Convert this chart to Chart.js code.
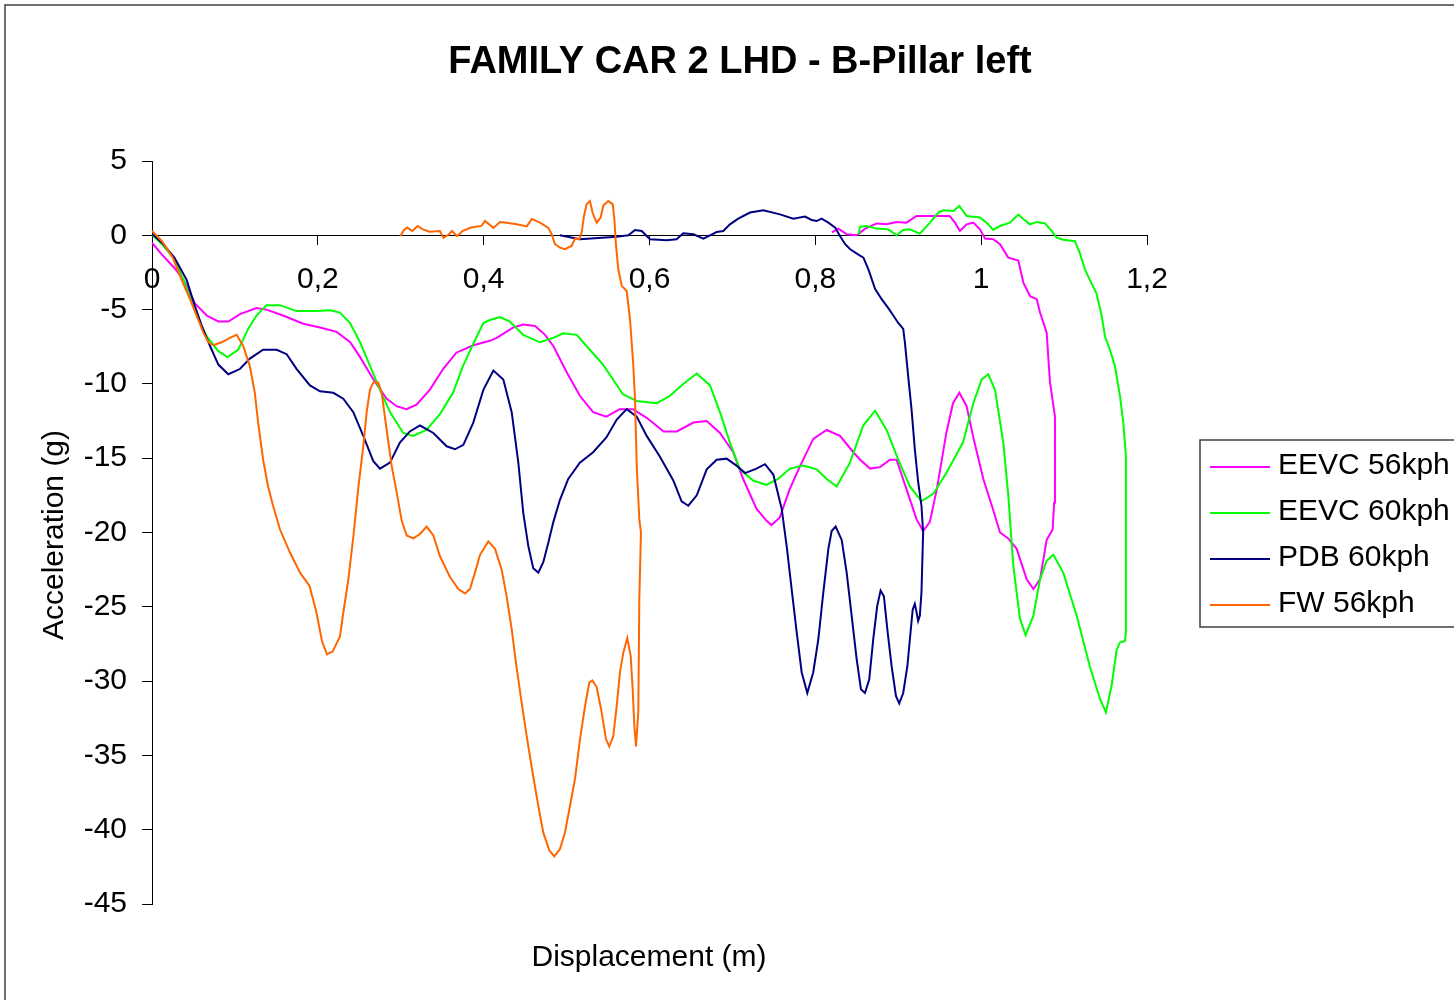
<!DOCTYPE html>
<html>
<head>
<meta charset="utf-8">
<script src="https://cdn.jsdelivr.net/npm/chart.js@4/dist/chart.umd.min.js"></script>
<style>
html,body{margin:0;padding:0;background:#fff;}
canvas{display:block;}
</style>
</head>
<body>
<canvas id="c" width="1454" height="1000"></canvas>
<script>
const chartTitle = 'FAMILY CAR 2 LHD - B-Pillar left';
const xAxisTitle = 'Displacement (m)';
const yAxisTitle = 'Acceleration (g)';
const seriesNames = ['EEVC 56kph', 'EEVC 60kph', 'PDB 60kph', 'FW 56kph'];
const xTickLabels = ['0', '0,2', '0,4', '0,6', '0,8', '1', '1,2'];
const yTickLabels = ['-45', '-40', '-35', '-30', '-25', '-20', '-15', '-10', '-5', '0', '5'];

// EEVC 56kph (displacement m, acceleration g), in path order
const eevc56Disp = [0,0.012,0.027,0.038,0.052,0.066,0.080,0.092,0.106,0.126,0.138,0.158,0.1825,0.2026,0.2227,0.239,0.251,0.267,0.283,0.295,0.307,0.319,0.335,0.351,0.367,0.3875,0.4076,0.4157,0.4358,0.4478,0.462,0.474,0.484,0.500,0.516,0.532,0.548,0.564,0.580,0.597,0.617,0.633,0.653,0.669,0.685,0.701,0.713,0.729,0.741,0.747,0.757,0.769,0.781,0.7975,0.8137,0.8297,0.8458,0.854,0.866,0.878,0.890,0.898,0.910,0.922,0.930,0.938,0.9465,0.958,0.966,0.9737,0.9825,0.9905,1.0026,1.0146,1.0227,1.0327,1.0428,1.0549,1.063,1.071,1.079,1.0862,1.088,1.089,1.083,1.079,1.071,1.067,1.059,1.051,1.0448,1.0327,1.0227,1.0146,1.0046,0.9985,0.9905,0.9825,0.9744,0.9684,0.962,0.922,0.910,0.898,0.886,0.874,0.860,0.850,0.838,0.8277,0.820];
const eevc56Acc  = [-0.5,-1.3,-2.2,-3.0,-4.6,-5.4,-5.8,-5.8,-5.3,-4.9,-5.0,-5.4,-5.95,-6.2,-6.5,-7.2,-8.2,-9.7,-11.0,-11.5,-11.7,-11.4,-10.4,-9.0,-7.9,-7.4,-7.1,-6.9,-6.2,-6.0,-6.1,-6.7,-7.45,-9.2,-10.8,-11.9,-12.2,-11.7,-11.7,-12.3,-13.2,-13.2,-12.6,-12.5,-13.3,-14.6,-16.4,-18.4,-19.2,-19.5,-19.0,-17.1,-15.6,-13.7,-13.1,-13.5,-14.6,-15.1,-15.7,-15.6,-15.1,-15.1,-17.1,-19.1,-19.9,-19.3,-17.1,-13.3,-11.3,-10.6,-11.5,-13.6,-16.4,-18.5,-20.0,-20.4,-21.1,-23.15,-23.8,-23.15,-20.5,-19.8,-18.0,-12.2,-9.9,-6.55,-5.2,-4.3,-4.1,-3.2,-1.7,-1.5,-0.6,-0.27,-0.22,0.4,0.85,0.74,0.29,0.85,1.3,1.3,0.85,0.9,0.74,0.8,0.45,0.0,0.07,0.45,0.2];

// EEVC 60kph
const eevc60Disp = [0,0.012,0.027,0.038,0.054,0.066,0.080,0.0908,0.104,0.116,0.126,0.138,0.154,0.1745,0.1986,0.2147,0.2267,0.2388,0.251,0.263,0.275,0.287,0.303,0.315,0.331,0.347,0.363,0.375,0.3875,0.3996,0.4076,0.4197,0.4317,0.4478,0.4679,0.484,0.496,0.5122,0.528,0.544,0.556,0.568,0.5846,0.6087,0.6247,0.6407,0.657,0.673,0.685,0.697,0.709,0.725,0.741,0.755,0.7694,0.7855,0.8016,0.8137,0.8257,0.8418,0.8578,0.872,0.886,0.900,0.914,0.928,0.9423,0.958,0.978,0.9905,1.0006,1.0086,1.0167,1.0267,1.0327,1.0388,1.0468,1.0536,1.063,1.071,1.079,1.087,1.099,1.1152,1.131,1.1433,1.1505,1.1573,1.1634,1.1674,1.1734,1.1746,1.1746,1.1714,1.1674,1.1613,1.1553,1.1493,1.1453,1.139,1.131,1.1252,1.119,1.1131,1.099,1.091,1.085,1.077,1.067,1.0588,1.0508,1.0448,1.0347,1.0227,1.0146,1.0066,0.9985,0.9825,0.9737,0.9664,0.9544,0.9483,0.9383,0.926,0.914,0.906,0.898,0.888,0.874,0.862,0.854,0.852];
const eevc60Acc  = [0.05,-0.6,-1.6,-3.0,-5.4,-6.8,-7.8,-8.2,-7.7,-6.3,-5.4,-4.7,-4.7,-5.1,-5.1,-5.05,-5.2,-5.9,-7.2,-8.8,-10.4,-11.9,-13.3,-13.5,-13.1,-12.05,-10.6,-8.8,-7.3,-5.9,-5.7,-5.5,-5.8,-6.7,-7.2,-6.9,-6.6,-6.7,-7.7,-8.7,-9.7,-10.7,-11.15,-11.3,-10.8,-10.0,-9.3,-10.1,-11.9,-13.95,-15.75,-16.5,-16.8,-16.4,-15.7,-15.5,-15.75,-16.4,-16.9,-15.3,-12.8,-11.8,-13.1,-15.1,-16.9,-17.9,-17.4,-16.0,-13.95,-11.3,-9.7,-9.35,-10.4,-13.95,-17.5,-22.25,-25.8,-26.9,-25.6,-23.15,-21.9,-21.5,-22.7,-25.6,-29.0,-31.2,-32.1,-30.3,-27.9,-27.4,-27.3,-26.7,-14.85,-12.6,-10.8,-8.8,-7.7,-6.8,-5.4,-3.9,-3.0,-2.3,-1.2,-0.4,-0.3,-0.16,0.3,0.8,0.9,0.74,1.1,1.4,0.85,0.63,0.36,0.85,1.2,1.3,1.97,1.64,1.68,1.53,0.85,0.11,0.4,0.36,0.0,0.4,0.45,0.63,0.58,0.07];

// PDB 60kph
const pdb60Disp = [0,0.012,0.027,0.0418,0.0519,0.060,0.070,0.080,0.092,0.106,0.118,0.134,0.1504,0.1624,0.1745,0.1905,0.2026,0.2187,0.2307,0.2428,0.2548,0.2669,0.275,0.287,0.299,0.311,0.3232,0.3393,0.3554,0.3654,0.3755,0.3875,0.3996,0.4117,0.4237,0.4338,0.4418,0.4478,0.4538,0.4598,0.4659,0.4719,0.4779,0.484,0.492,0.502,0.516,0.532,0.548,0.5605,0.5725,0.5846,0.5966,0.6126,0.6287,0.6387,0.6468,0.657,0.669,0.681,0.693,0.705,0.7152,0.729,0.7393,0.7493,0.7594,0.7654,0.7714,0.7775,0.7835,0.7903,0.7975,0.8036,0.8096,0.8157,0.8197,0.8245,0.8318,0.8378,0.8438,0.8498,0.855,0.8598,0.865,0.8698,0.8746,0.8787,0.8827,0.8872,0.892,0.8972,0.9012,0.906,0.911,0.914,0.9174,0.920,0.9222,0.924,0.926,0.928,0.930,0.928,0.924,0.920,0.916,0.912,0.908,0.906,0.900,0.894,0.888,0.880,0.872,0.864,0.858,0.852,0.842,0.836,0.8297,0.824,0.8157,0.8076,0.8016,0.7956,0.7875,0.7734,0.7574,0.7373,0.7212,0.707,0.697,0.689,0.681,0.673,0.665,0.653,0.6407,0.6327,0.6206,0.6006,0.5906,0.5825,0.5745,0.5605,0.5162,0.492];
const pdb60Acc  = [0.1,-0.5,-1.5,-3.0,-4.8,-6.1,-7.45,-8.7,-9.35,-9.0,-8.3,-7.7,-7.7,-8.0,-9.0,-10.1,-10.5,-10.6,-11.0,-11.9,-13.5,-15.2,-15.7,-15.3,-13.95,-13.2,-12.8,-13.3,-14.2,-14.4,-14.1,-12.6,-10.4,-9.1,-9.7,-11.9,-15.3,-18.7,-20.9,-22.4,-22.7,-22.0,-20.7,-19.3,-17.8,-16.4,-15.3,-14.6,-13.6,-12.4,-11.7,-12.2,-13.5,-14.9,-16.5,-17.9,-18.2,-17.5,-15.75,-15.1,-15.03,-15.5,-16.0,-15.7,-15.4,-16.1,-18.4,-20.9,-23.8,-26.7,-29.4,-30.8,-29.4,-27.2,-24.05,-21.1,-19.9,-19.6,-20.5,-22.7,-25.6,-28.5,-30.55,-30.8,-29.9,-27.2,-24.95,-23.9,-24.3,-26.7,-29.0,-31.0,-31.5,-30.8,-29.0,-27.2,-25.2,-24.8,-25.4,-25.95,-25.6,-24.05,-20.0,-18.2,-16.6,-14.4,-11.7,-9.5,-7.2,-6.3,-5.9,-5.4,-4.9,-4.3,-3.6,-2.3,-1.5,-1.3,-0.94,-0.6,-0.05,0.52,0.85,1.12,0.96,1.03,1.26,1.12,1.41,1.68,1.53,1.12,0.74,0.29,0.22,0.0,-0.22,0.07,0.13,-0.27,-0.34,-0.27,0.29,0.36,0.0,-0.09,-0.27,0.0];

// FW 56kph
const fw56Disp = [0,0.012,0.025,0.0358,0.0458,0.0539,0.0619,0.068,0.074,0.084,0.094,0.102,0.110,0.118,0.124,0.128,0.134,0.140,0.146,0.1544,0.1664,0.1785,0.190,0.198,0.205,0.211,0.218,0.2267,0.2307,0.2368,0.2428,0.2488,0.2548,0.2589,0.2629,0.2669,0.2729,0.277,0.283,0.289,0.2951,0.3011,0.3072,0.3152,0.3232,0.3313,0.3393,0.3473,0.3594,0.3694,0.3775,0.3835,0.3895,0.3956,0.4056,0.4137,0.4217,0.4277,0.4338,0.439,0.4458,0.4519,0.4591,0.4659,0.4719,0.4792,0.4852,0.492,0.498,0.5041,0.5101,0.5162,0.5222,0.5274,0.531,0.5363,0.5423,0.5475,0.5515,0.5563,0.5604,0.5644,0.5684,0.5732,0.5773,0.5797,0.5817,0.5837,0.5865,0.5877,0.5897,0.5877,0.5846,0.5825,0.5805,0.5785,0.5765,0.5725,0.5665,0.5624,0.5596,0.5576,0.5556,0.5503,0.5443,0.5411,0.5363,0.5315,0.5282,0.5242,0.521,0.5182,0.5153,0.5101,0.5061,0.498,0.492,0.486,0.482,0.478,0.468,0.458,0.452,0.4398,0.4277,0.4197,0.4117,0.4016,0.3973,0.3847,0.3743,0.368,0.3618,0.3577,0.3514,0.3473,0.3349,0.3266,0.3203,0.314,0.3078,0.3037,0.2995];
const fw56Acc  = [0.3,-0.4,-1.5,-3.0,-4.3,-5.4,-6.55,-7.2,-7.4,-7.2,-6.9,-6.7,-7.45,-8.8,-10.6,-12.6,-15.1,-16.9,-18.2,-19.8,-21.35,-22.7,-23.6,-25.3,-27.3,-28.2,-28.0,-27.0,-25.4,-23.15,-20.3,-17.0,-14.2,-11.9,-10.4,-9.9,-9.9,-10.6,-13.1,-15.5,-17.3,-19.2,-20.2,-20.4,-20.1,-19.6,-20.2,-21.6,-23.0,-23.8,-24.1,-23.8,-22.7,-21.5,-20.6,-21.1,-22.5,-24.3,-26.5,-28.8,-31.45,-33.7,-36.2,-38.4,-40.2,-41.4,-41.8,-41.3,-40.2,-38.4,-36.6,-33.9,-31.7,-30.1,-29.95,-30.4,-32.1,-33.9,-34.4,-33.7,-31.7,-29.4,-28.1,-27.1,-28.3,-30.55,-33.0,-34.4,-32.1,-24.5,-20.0,-19.1,-15.5,-11.0,-8.8,-7.2,-5.65,-3.75,-3.4,-2.3,-0.7,1.1,2.1,2.3,2.0,1.2,0.85,1.5,2.3,2.1,1.3,0.2,-0.27,-0.22,-0.72,-0.94,-0.83,-0.6,0.07,0.5,0.85,1.1,0.6,0.74,0.85,0.9,0.5,0.96,0.63,0.52,0.29,-0.06,0.29,0.05,-0.17,0.29,0.24,0.4,0.63,0.29,0.52,0.34,-0.06];

const seriesColors = ['#FF00FF', '#00FF00', '#000080', '#FF6600'];

function pts(xs, ys) { return xs.map((x, i) => ({ x: x, y: ys[i] })); }

const FONT = '"Liberation Sans", Arial, sans-serif';

const decorPlugin = {
  id: 'decor',
  afterDraw(chart) {
    const ctx = chart.ctx;
    ctx.save();
    // outer border
    ctx.strokeStyle = '#404040';
    ctx.lineWidth = 1.5;
    ctx.strokeRect(5, 5, 1500, 1100);
    ctx.fillStyle = '#000';
    // title
    ctx.font = 'bold 38px ' + FONT;
    ctx.textAlign = 'center';
    ctx.textBaseline = 'alphabetic';
    ctx.fillText(chartTitle, 740, 73);
    // x axis title
    ctx.font = '30px ' + FONT;
    ctx.fillText(xAxisTitle, 649, 966);
    // y axis title
    ctx.save();
    ctx.translate(63, 535);
    ctx.rotate(-Math.PI / 2);
    ctx.fillText(yAxisTitle, 0, 0);
    ctx.restore();
    // legend
    ctx.strokeStyle = '#404040';
    ctx.lineWidth = 1.5;
    ctx.strokeRect(1200, 440, 400, 187);
    const ys = [467, 513, 559, 605];
    chart.data.datasets.forEach((ds, i) => {
      ctx.strokeStyle = ds.borderColor;
      ctx.lineWidth = 2;
      ctx.beginPath();
      ctx.moveTo(1210, ys[i]);
      ctx.lineTo(1270, ys[i]);
      ctx.stroke();
      ctx.fillStyle = '#000';
      ctx.textAlign = 'left';
      ctx.textBaseline = 'middle';
      ctx.font = '30px ' + FONT;
      ctx.fillText(ds.label, 1278, ys[i] - 1);
    });
    ctx.restore();
  }
};

const allX = [eevc56Disp, eevc60Disp, pdb60Disp, fw56Disp];
const allY = [eevc56Acc, eevc60Acc, pdb60Acc, fw56Acc];
const orders = [4, 3, 2, 1];

new Chart(document.getElementById('c'), {
  type: 'scatter',
  data: {
    datasets: seriesNames.map((name, i) => ({
      label: name,
      data: pts(allX[i], allY[i]),
      showLine: true,
      borderColor: seriesColors[i],
      backgroundColor: seriesColors[i],
      borderWidth: 2,
      pointRadius: 0,
      pointHoverRadius: 0,
      tension: 0,
      fill: false,
      order: orders[i]
    }))
  },
  options: {
    responsive: false,
    maintainAspectRatio: false,
    devicePixelRatio: 1,
    animation: false,
    events: [],
    layout: { padding: { left: 52, top: 161, right: 307, bottom: 96 } },
    plugins: {
      legend: { display: false },
      title: { display: false },
      tooltip: { enabled: false }
    },
    scales: {
      x: {
        type: 'linear',
        position: { y: 0 },
        min: 0,
        max: 1.2,
        grid: { display: true, drawOnChartArea: false, drawTicks: true, tickLength: 9, color: '#000', lineWidth: 1 },
        border: { display: true, color: '#000', width: 1 },
        ticks: {
          stepSize: 0.2,
          maxRotation: 0,
          autoSkip: false,
          padding: 17,
          color: '#000',
          font: { family: FONT, size: 30 },
          callback: (v) => xTickLabels[Math.round(v / 0.2)]
        }
      },
      y: {
        type: 'linear',
        position: 'left',
        min: -45,
        max: 5,
        afterFit: (s) => { s.width = 100; },
        grid: { display: true, drawOnChartArea: false, drawTicks: true, tickLength: 10, color: '#000', lineWidth: 1 },
        border: { display: true, color: '#000', width: 1 },
        ticks: {
          stepSize: 5,
          autoSkip: false,
          padding: 15,
          color: '#000',
          font: { family: FONT, size: 30 },
          callback: (v) => yTickLabels[Math.round((v + 45) / 5)]
        }
      }
    }
  },
  plugins: [decorPlugin]
});
</script>
</body>
</html>
